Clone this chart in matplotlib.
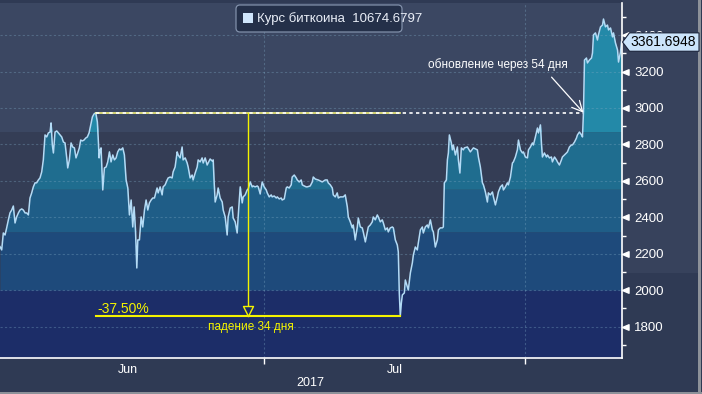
import numpy as np
import matplotlib
matplotlib.use('Agg')
import matplotlib.pyplot as plt
import matplotlib.transforms as mtransforms
from matplotlib.patches import Polygon, FancyBboxPatch, Rectangle
from matplotlib.path import Path

plt.rcParams['font.family'] = ['Liberation Sans', 'DejaVu Sans']

# ---------------- data ----------------
# days since start of the window (~1 Jun 2017), BTC price in USD
day = [0.00, 0.19, 0.37, 0.56, 0.74, 0.93, 1.11, 1.30, 1.48, 1.67, 1.85, 2.04, 2.22, 2.41, 2.59, 2.78, 2.96, 3.15,
       3.33, 3.52, 3.70, 3.89, 4.07, 4.26, 4.44, 4.63, 4.81, 5.00, 5.19, 5.37, 5.56, 5.67, 5.81, 5.93, 6.11, 6.30,
       6.48, 6.67, 6.85, 7.04, 7.22, 7.41, 7.52, 7.70, 7.89, 8.07, 8.26, 8.44, 8.63, 8.81, 8.96, 9.15, 9.33, 9.52,
       9.70, 9.89, 10.07, 10.26, 10.44, 10.63, 10.81, 10.93, 11.00, 11.11, 11.22, 11.41, 11.59, 11.78, 11.96, 12.15,
       12.33, 12.52, 12.70, 12.89, 13.07, 13.26, 13.44, 13.63, 13.81, 14.00, 14.19, 14.37, 14.56, 14.74, 14.89, 15.04,
       15.19, 15.30, 15.48, 15.67, 15.85, 16.04, 16.22, 16.41, 16.59, 16.78, 16.96, 17.15,
       17.44, 17.56, 17.78, 18.00, 18.11, 18.33, 18.56, 18.67, 18.89, 19.11, 19.22, 19.44, 19.67, 19.78, 20.00, 20.22,
       20.33, 20.56, 20.78, 20.89, 21.11, 21.33, 21.44, 21.67, 21.89, 22.00, 22.22, 22.44, 22.56, 22.78, 23.00, 23.11,
       23.33, 23.56, 23.67, 23.78, 23.89, 24.11, 24.22, 24.44, 24.67, 24.78, 25.00, 25.22, 25.33, 25.56, 25.78, 25.89,
       26.11, 26.33, 26.44, 26.67, 26.89, 27.00, 27.22, 27.44, 27.56, 27.78, 28.00, 28.11, 28.33, 28.56, 28.67, 28.89,
       29.11, 29.33, 29.56, 29.67, 29.89, 30.11, 30.22, 30.44, 30.67, 30.78, 31.00, 31.22, 31.33, 31.56, 31.78, 31.89,
       32.11, 32.33, 32.44, 32.67, 32.89, 33.00, 33.22, 33.44, 33.56, 33.78, 34.00, 34.11,
       34.44, 34.67, 34.78, 35.00, 35.33, 35.78, 36.11, 36.33, 36.44, 36.67, 36.89, 37.00, 37.22, 37.44, 37.56, 37.78,
       38.00, 38.11, 38.33, 38.56, 38.67, 38.89, 39.11, 39.22, 39.44, 39.67, 39.78, 40.00, 40.22, 40.33, 40.56, 40.78,
       40.89, 41.11, 41.33, 41.44, 41.67, 41.89, 42.00, 42.22, 42.44, 42.56, 42.78, 43.00, 43.11, 43.33, 43.56, 43.67,
       43.89, 44.11, 44.22, 44.33, 44.44, 44.56, 44.67, 44.89, 45.00, 45.22, 45.33, 45.56, 45.78, 45.89, 46.11, 46.33,
       46.44, 46.67, 46.89, 47.00, 47.22, 47.44, 47.56, 47.78, 48.00, 48.11, 48.33, 48.56, 48.67, 48.89, 49.11, 49.22,
       49.33, 49.56, 49.67, 49.78, 49.89, 50.11, 50.22, 50.33, 50.56, 50.78, 50.89, 51.06,
       51.22, 51.44, 51.56, 51.89, 52.22, 52.56, 53.00, 53.11, 53.33, 53.56, 53.67, 53.89, 54.11, 54.22, 54.44, 54.67,
       54.78, 55.00, 55.22, 55.33, 55.56, 55.78, 55.89, 56.11, 56.33, 56.44, 56.67, 56.89, 57.00, 57.22, 57.44, 57.56,
       57.78, 58.00, 58.11, 58.33, 58.56, 58.67, 58.89, 59.11, 59.22, 59.44, 59.67, 59.78, 60.00, 60.11, 60.22, 60.44,
       60.67, 60.78, 61.00, 61.22, 61.33, 61.56, 61.78, 61.89, 62.11, 62.33, 62.44, 62.67, 62.89, 63.00, 63.22, 63.44,
       63.56, 63.78, 64.00, 64.11, 64.33, 64.56, 64.67, 64.78, 64.89, 65.11, 65.22, 65.44, 65.67, 65.78, 65.89, 66.11,
       66.33, 66.44, 66.67, 66.89, 67.00, 67.22, 67.44, 67.56, 67.78, 68.00, 68.11, 68.33, 68.56, 68.67, 68.89, 69.00]

price = [2239, 2221, 2314, 2303, 2342, 2386, 2424, 2440, 2462, 2369, 2402, 2424, 2440, 2446, 2440, 2424, 2424, 2413,
         2506, 2534, 2567, 2589, 2589, 2605, 2616, 2649, 2715, 2852, 2841, 2863, 2868, 2918, 2797, 2753, 2868, 2874,
         2863, 2852, 2841, 2813, 2808, 2726, 2671, 2715, 2808, 2786, 2781, 2726, 2753, 2781, 2824, 2819, 2824, 2835,
         2841, 2863, 2907, 2951, 2967, 2974, 2923, 2808, 2726, 2770, 2781, 2550, 2671, 2676, 2704, 2759,
         2704, 2742, 2715, 2726, 2759, 2775, 2770, 2781, 2742, 2605, 2561, 2413, 2495, 2347, 2457, 2331,
         2122, 2276, 2276, 2402, 2347, 2440, 2495, 2440, 2479, 2495, 2506, 2506,
         2561, 2534, 2567, 2523, 2567, 2578, 2605, 2616, 2621, 2616, 2649, 2676, 2759, 2742, 2726, 2786,
         2715, 2726, 2698, 2676, 2616, 2632, 2605, 2643, 2676, 2715, 2704, 2726, 2698, 2726, 2687, 2698,
         2720, 2709, 2715, 2589, 2484, 2523, 2561, 2506, 2484, 2440, 2402, 2303, 2402, 2451, 2457, 2396,
         2375, 2314, 2402, 2567, 2479, 2512, 2523, 2550, 2556, 2594, 2567, 2572, 2567, 2572, 2567, 2528,
         2594, 2567, 2550, 2534, 2512, 2523, 2512, 2517, 2506, 2512, 2501, 2506, 2495, 2501, 2561, 2567,
         2561, 2578, 2621, 2632, 2616, 2605, 2594, 2605, 2578, 2572, 2567, 2567,
         2572, 2594, 2621, 2610, 2605, 2594, 2605, 2605, 2589, 2578, 2561, 2523, 2512, 2534, 2506, 2512,
         2512, 2512, 2523, 2457, 2402, 2375, 2342, 2358, 2276, 2347, 2396, 2347, 2342, 2320, 2265, 2320,
         2347, 2358, 2375, 2402, 2386, 2413, 2402, 2375, 2386, 2369, 2331, 2342, 2320, 2342, 2347, 2342,
         2276, 2248, 2210, 1985, 1858, 1930, 1974, 1985, 2056, 2018, 2001, 2095, 2150, 2193, 2237, 2221,
         2259, 2331, 2347, 2314, 2347, 2358, 2342, 2386, 2331, 2320, 2237, 2276, 2331, 2342, 2342, 2347,
         2589, 2605, 2715, 2753, 2852, 2808, 2770, 2797, 2742, 2786, 2715, 2643,
         2781, 2770, 2781, 2786, 2759, 2781, 2770, 2731, 2676, 2589, 2578, 2539, 2484, 2534, 2523, 2539,
         2512, 2468, 2512, 2539, 2567, 2578, 2550, 2567, 2589, 2578, 2621, 2698, 2704, 2731, 2770, 2824,
         2770, 2753, 2759, 2731, 2726, 2770, 2786, 2808, 2797, 2841, 2890, 2863, 2907, 2808, 2731, 2753,
         2731, 2742, 2726, 2731, 2704, 2731, 2715, 2704, 2687, 2715, 2731, 2742, 2753, 2759, 2786, 2797,
         2797, 2813, 2835, 2852, 2868, 2852, 2841, 2980, 3263, 3274, 3247, 3263, 3274, 3302, 3401, 3412,
         3373, 3401, 3445, 3455, 3488, 3445, 3455, 3428, 3439, 3390, 3412, 3357, 3318, 3252, 3307, 3361.6948]

series_name = 'Курс биткоина'
legend_value = '10674.6797'
last_value_label = '3361.6948'

y_major = [1800, 2000, 2200, 2400, 2600, 2800, 3000, 3200, 3400]
y_minor = [1700, 1900, 2100, 2300, 2500, 2700, 2900, 3100, 3300, 3500]
month_edges = [29.33, 58.29]
month_labels = ['Jun', 'Jul']
month_label_pos = [14.2, 43.8]
year_label = '2017'

band_edges = [2001, 2321, 2554, 2870]
drop_label = '-37.50%'
drop_days_label = 'падение 34 дня'
recover_label = 'обновление через 54 дня'

# ---------------- styling ----------------
W, H, DPI = 702, 394, 100
fig = plt.figure(figsize=(W / DPI, H / DPI), dpi=DPI, facecolor='#2f3a54')

# right panel / borders (figure decoration, pixel coords)
ident = mtransforms.IdentityTransform()
fig.add_artist(Rectangle((622, H - 273), 76, 273, transform=ident, color='#37425c', zorder=-1, lw=0))
fig.add_artist(Rectangle((698, 0), 3, H, transform=ident, color='#8c9199', zorder=-1, lw=0))
fig.add_artist(Rectangle((0, 0), W, 2.5, transform=ident, color='#8c9199', zorder=-1, lw=0))

ax = fig.add_axes([0, 36 / H, 621.5 / W, 355 / H])
ymin, ymax = 1628, 3576
ax.set_xlim(0, 69.0)
ax.set_ylim(ymin, ymax)

x = np.array(day)
p = np.array(price)

levels = [ymin] + band_edges + [ymax]
bg_colors = ['#1c2d68', '#343d55', '#343d55', '#343d55', '#3b4762']
fill_colors = ['#1c2d68', '#1e4a7b', '#1f5d87', '#1f6d8f', '#2389a8']
for lo, hi, bc, fc in zip(levels[:-1], levels[1:], bg_colors, fill_colors):
    ax.axhspan(lo, hi, color=bc, lw=0, zorder=0)
    ax.fill_between(x, lo, np.clip(p, lo, hi), color=fc, lw=0, zorder=1)

ax.plot(x, p, color='#b3dbf6', lw=1.1, zorder=3)

# grid
ax.set_yticks(y_major)
ax.set_yticks(y_minor, minor=True)
ax.set_xticks(month_edges)
ax.set_xticks(month_label_pos, minor=True)
ax.set_xticklabels(month_labels, minor=True)
ax.set_xticklabels([])
ax.grid(True, which='major', ls=(0, (2, 2)), color='#7fa9c4', alpha=0.35, lw=0.8, zorder=2)
ax.set_axisbelow(False)

for s in ['top', 'left']:
    ax.spines[s].set_visible(False)
for s in ['right', 'bottom']:
    ax.spines[s].set_color('white')
    ax.spines[s].set_linewidth(1.2)
    ax.spines[s].set_zorder(6)

ax.yaxis.tick_right()
ax.tick_params(axis='y', which='major', length=0, pad=9, labelsize=9.5, labelcolor='white')
ax.tick_params(axis='y', which='minor', length=3, width=1, color='white', direction='out')
ax.tick_params(axis='x', which='major', length=4, width=1, color='white', direction='out')
ax.tick_params(axis='x', which='minor', length=0, pad=4, labelsize=9, labelcolor='white')
fig.text(310 / W, (H - 383) / H, year_label, ha='center', va='center', color='white', fontsize=9)

# triangle markers at major y ticks
tri = Path([(0, 0), (1, 0.42), (1, -0.42), (0, 0)], [Path.MOVETO, Path.LINETO, Path.LINETO, Path.CLOSEPOLY])
ax.plot(np.ones(len(y_major)), y_major, ls='none', marker=tri, ms=9.4, color='white',
        transform=ax.get_yaxis_transform(), clip_on=False, zorder=7)

# ---------------- drawdown annotations ----------------
low_i = int(np.argmin(p))
peak_i = int(np.argmax(p[:low_i]))
peak_val, low_val = p[peak_i], p[low_i]
rec_i = low_i + int(np.argmax(p[low_i:] >= peak_val))
mid = (x[peak_i] + x[low_i]) / 2
yellow = '#f4f400'

ax.plot([x[peak_i], x[low_i]], [peak_val, peak_val], color='#f2f07a', lw=1.2, zorder=4)
ax.plot([x[peak_i], x[rec_i]], [peak_val, peak_val], color='white', lw=1.2, ls=(0, (2, 2)), zorder=4)
ax.plot([x[peak_i], x[low_i]], [low_val, low_val], color=yellow, lw=1.5, zorder=4)
ax.plot([mid, mid], [peak_val, low_val], color=yellow, lw=1.0, zorder=4)
vtri = Path([(0, 0), (-0.5, 1), (0.5, 1), (0, 0)], [Path.MOVETO, Path.LINETO, Path.LINETO, Path.CLOSEPOLY])
ax.plot([mid], [low_val], marker=vtri, ms=14.4, mfc='#1c2d68', mec=yellow, mew=1.0, zorder=5)

ax.annotate(drop_label, xy=(x[peak_i], low_val), xytext=(1.5, 2.5), textcoords='offset points',
            ha='left', va='baseline', color=yellow, fontsize=10, zorder=6)
ax.annotate(drop_days_label, xy=(mid, low_val), xytext=(2, -7.8), textcoords='offset points',
            ha='center', va='center', color=yellow, fontsize=8.5, zorder=6)
ax.annotate(recover_label, xy=(x[rec_i], peak_val), xytext=(-62, 34.5), textcoords='offset points',
            ha='center', va='center', color='white', fontsize=8.5, zorder=6,
            arrowprops=dict(arrowstyle='->,head_length=0.5,head_width=0.25', color='white', lw=0.9,
                            shrinkA=3, shrinkB=0, relpos=(0.85, 0), mutation_scale=15))

# ---------------- legend box ----------------
fig.add_artist(FancyBboxPatch((236, H - 32), 166, 27, boxstyle='round,pad=0,rounding_size=4',
                              transform=ident, fc='#243049', ec='#8190aa', lw=0.9, zorder=8))
fig.add_artist(Rectangle((243.3, H - 22.7), 9.4, 9.4, transform=ident, fc='#cfe5fb', lw=0, zorder=9))
fig.text(257 / W, (H - 18.5) / H, f'{series_name}  {legend_value}', ha='left', va='center',
         color='#e9eef7', fontsize=9.5, zorder=9)

# ---------------- last value tag ----------------
fig.canvas.draw()
_, yc = ax.transData.transform((x[-1], p[-1]))
x0 = ax.transAxes.transform((1, 0))[0] + 1
tag = Polygon([(x0, yc), (x0 + 7, yc + 9.2), (699, yc + 9.2), (699, yc - 9.2), (x0 + 7, yc - 9.2)],
              closed=True, transform=ident, fc='#cbe4fb', ec='#1a2238', lw=0.8, zorder=10)
fig.add_artist(tag)
fig.text((x0 + 8) / W, yc / H, last_value_label, ha='left', va='center', color='black', fontsize=10, zorder=11)

fig.savefig('out.png', dpi=DPI, facecolor=fig.get_facecolor())
